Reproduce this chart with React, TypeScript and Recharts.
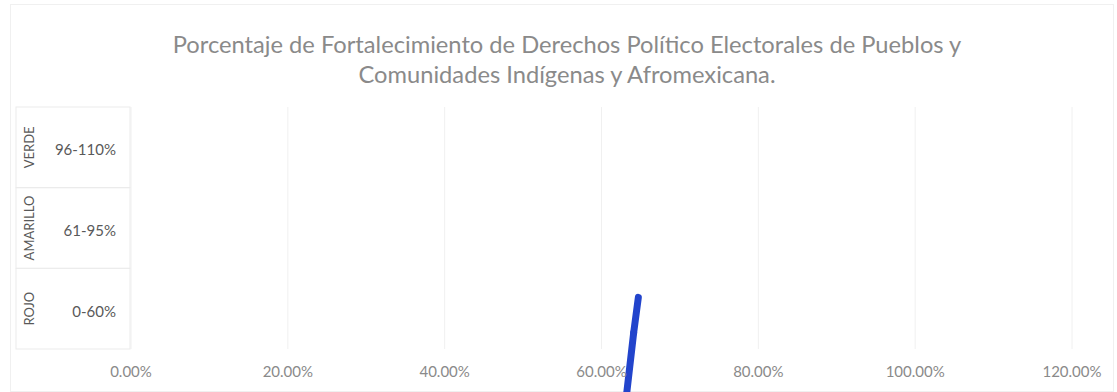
import React from "react";
import {
  ComposedChart,
  XAxis,
  YAxis,
  CartesianGrid,
  ReferenceLine,
} from "recharts";

// semaphore bands, bottom to top
const BAND_NAMES = ["ROJO", "AMARILLO", "VERDE"];
const BAND_RANGES = ["0-60%", "61-95%", "96-110%"];
const BAND_TICKS = [0.5, 1.5, 2.5];

const X_TICKS = [0, 0.2, 0.4, 0.6, 0.8, 1.0, 1.2];

// needle drawn as a slightly bent stroke (value ~64%)
const NEEDLE_X = [0.647, 0.641, 0.632];
const NEEDLE_Y = [0.64, 0.2, -0.56];

const FONT = "Lato, 'Open Sans', sans-serif";
const BAND_H = 80.7;

const BandTick = (props: any) => {
  const { x, y, payload } = props;
  const i = BAND_TICKS.indexOf(payload.value);
  if (i < 0) return null;
  return (
    <g>
      <rect
        x={x - 115}
        y={y - BAND_H / 2}
        width={114}
        height={BAND_H}
        fill="none"
        stroke="#ebebeb"
        strokeWidth={1}
      />
      <text
        x={x - 15}
        y={y + 2}
        textAnchor="end"
        dominantBaseline="central"
        fontSize={15}
        fill="#595959"
        fontFamily={FONT}
      >
        {BAND_RANGES[i]}
      </text>
      <text
        x={x - 102}
        y={y}
        textAnchor="middle"
        dominantBaseline="central"
        fontSize={13}
        fill="#595959"
        fontFamily={FONT}
        transform={`rotate(-90, ${x - 102}, ${y})`}
      >
        {BAND_NAMES[i]}
      </text>
    </g>
  );
};

export default function App() {
  const data = [{ x: 0, y: 0 }];
  const segs = NEEDLE_X.slice(1).map((_, i) => [
    { x: NEEDLE_X[i], y: NEEDLE_Y[i] },
    { x: NEEDLE_X[i + 1], y: NEEDLE_Y[i + 1] },
  ]);

  return (
    <div
      style={{
        position: "absolute",
        left: 0,
        top: 0,
        width: 1117,
        height: 392,
        background: "#fff",
        overflow: "hidden",
      }}
    >
      <div
        style={{
          position: "absolute",
          left: 10,
          top: 4,
          width: 1102,
          height: 386,
          border: "1px solid #f0f0f0",
        }}
      />
      <div
        style={{
          position: "absolute",
          left: 0,
          top: 29,
          width: 1134,
          textAlign: "center",
          fontFamily: FONT,
          fontSize: 23.7,
          lineHeight: "30px",
          color: "#8a8a8a",
        }}
      >
        Porcentaje de Fortalecimiento de Derechos Político Electorales de Pueblos y
        <br />
        Comunidades Indígenas y Afromexicana.
      </div>
      <ComposedChart
        width={1117}
        height={392}
        data={data}
        margin={{ top: 107, right: 45, bottom: 3, left: 7 }}
        style={{ position: "absolute", left: 0, top: 0 }}
      >
        <CartesianGrid
          horizontal={false}
          stroke="#f0f0f0"
          verticalValues={X_TICKS}
        />
        <XAxis
          dataKey="x"
          type="number"
          domain={[0, 1.2]}
          ticks={X_TICKS}
          height={40}
          axisLine={false}
          tickLine={false}
          tickMargin={11}
          tickFormatter={(v: number) => `${(v * 100).toFixed(2)}%`}
          tick={{ fontSize: 15, fill: "#8a8a8a", fontFamily: FONT }}
        />
        <YAxis
          dataKey="y"
          type="number"
          domain={[0, 3]}
          allowDataOverflow
          ticks={BAND_TICKS}
          width={124}
          axisLine={false}
          tickLine={false}
          tickSize={0}
          tickMargin={0}
          tick={<BandTick />}
        />
        {segs.map((s, i) => (
          <ReferenceLine
            key={i}
            segment={s}
            ifOverflow="visible"
            stroke="#2244cc"
            strokeWidth={7}
            strokeLinecap="round"
          />
        ))}
      </ComposedChart>
    </div>
  );
}
